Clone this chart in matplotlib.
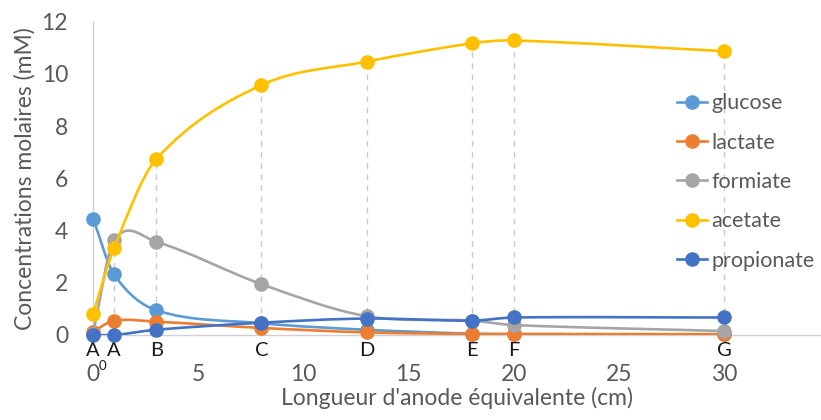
import numpy as np
import matplotlib
matplotlib.use('Agg')
import matplotlib.pyplot as plt
from matplotlib.path import Path
from matplotlib.patches import PathPatch
from matplotlib.lines import Line2D

plt.rcParams['font.family'] = ['Lato', 'DejaVu Sans']

# ==============================
# 数据
# ==============================
x = [0, 1, 3, 8, 13, 18, 20, 30]
points = ['A', 'A', 'B', 'C', 'D', 'E', 'F', 'G']
point_sub = ['0', '', '', '', '', '', '', '']

glucose = [4.46, 2.32, 0.95, 0.45, 0.20, 0.05, 0.03, 0.02]
lactate = [0.13, 0.55, 0.51, 0.27, 0.10, 0.04, 0.04, 0.03]
formiate = [0.05, 3.63, 3.57, 1.95, 0.72, 0.55, 0.38, 0.15]
acetate = [0.80, 3.33, 6.73, 9.57, 10.47, 11.17, 11.28, 10.87]
propionate = [0.00, 0.00, 0.20, 0.47, 0.63, 0.55, 0.67, 0.67]

series = [
    ('glucose', glucose, '#5B9BD5'),
    ('lactate', lactate, '#ED7D31'),
    ('formiate', formiate, '#A5A5A5'),
    ('acetate', acetate, '#FFC000'),
    ('propionate', propionate, '#4472C4'),
]

TXT = '#595959'


def smooth_path(xs, ys):
    """平滑线：非均匀 Hermite 切线 -> 三次 Bezier 控制点"""
    xs = np.asarray(xs, float)
    ys = np.asarray(ys, float)
    n = len(xs)
    m = np.zeros(n)
    for i in range(n):
        lo = max(i - 1, 0)
        hi = min(i + 1, n - 1)
        m[i] = (ys[hi] - ys[lo]) / (xs[hi] - xs[lo])
    verts = [(xs[0], ys[0])]
    codes = [Path.MOVETO]
    for i in range(n - 1):
        h = xs[i + 1] - xs[i]
        c1 = (xs[i] + h / 3, ys[i] + m[i] * h / 3)
        c2 = (xs[i + 1] - h / 3, ys[i + 1] - m[i + 1] * h / 3)
        verts += [c1, c2, (xs[i + 1], ys[i + 1])]
        codes += [Path.CURVE4] * 3
    return Path(verts, codes)


fig = plt.figure(figsize=(8.21, 4.2), dpi=100)
ax = fig.add_axes([0.1133, 0.2024, 0.8867, 0.746])

# 垂直虚线 (drop lines)
ax.vlines(x[1:], 0, acetate[1:], colors='#C8C8C8', linestyles=(0, (4, 4)),
          linewidth=1.0, zorder=1)

handles = []
for k, (name, ys, col) in enumerate(series):
    patch = PathPatch(smooth_path(x, ys), facecolor='none', edgecolor=col,
                      linewidth=1.9, zorder=2 + k, capstyle='round')
    ax.add_patch(patch)
    ax.plot(x, ys, linestyle='none', marker='o', markersize=9.5,
            color=col, zorder=2 + k, clip_on=False)
    handles.append(Line2D([], [], color=col, linewidth=1.9, marker='o',
                          markersize=9.5, label=name))

# 点位字母标注
for xi, lab, sub in zip(x, points, point_sub):
    ax.annotate(lab, (xi, 0), xytext=(0, -5), textcoords='offset points',
                ha='center', va='top', fontsize=14.5, color='#1a1a1a',
                annotation_clip=False)
    if sub:
        ax.annotate(sub, (xi, 0), xytext=(7, -18), textcoords='offset points',
                    ha='center', va='top', fontsize=9.5, color='#1a1a1a',
                    annotation_clip=False)

ax.set_xlim(0, 34.6)
ax.set_ylim(0, 12)
ax.set_xticks([0, 5, 10, 15, 20, 25, 30])
ax.set_yticks([0, 2, 4, 6, 8, 10, 12])

for s in ['top', 'right']:
    ax.spines[s].set_visible(False)
for s in ['left', 'bottom']:
    ax.spines[s].set_color('#D0D0D0')
    ax.spines[s].set_linewidth(1.0)
    ax.spines[s].set_zorder(0.5)

ax.tick_params(axis='both', length=0, labelsize=16.5, labelcolor=TXT)
ax.tick_params(axis='x', pad=21)
ax.tick_params(axis='y', pad=18)

ax.set_xlabel("Longueur d'anode équivalente (cm)", fontsize=16.5, color=TXT,
              labelpad=1)
ax.set_ylabel('Concentrations molaires (mM)', fontsize=16.5, color=TXT,
              labelpad=4)

ax.legend(handles=handles, loc='upper left', bbox_to_anchor=(0.8246, 0.778),
          bbox_transform=fig.transFigure, frameon=False, fontsize=15.5,
          labelcolor=TXT, handlelength=1.4, handletextpad=0.2,
          labelspacing=0.9, borderpad=0, borderaxespad=0)

fig.savefig('out.png', dpi=100)
